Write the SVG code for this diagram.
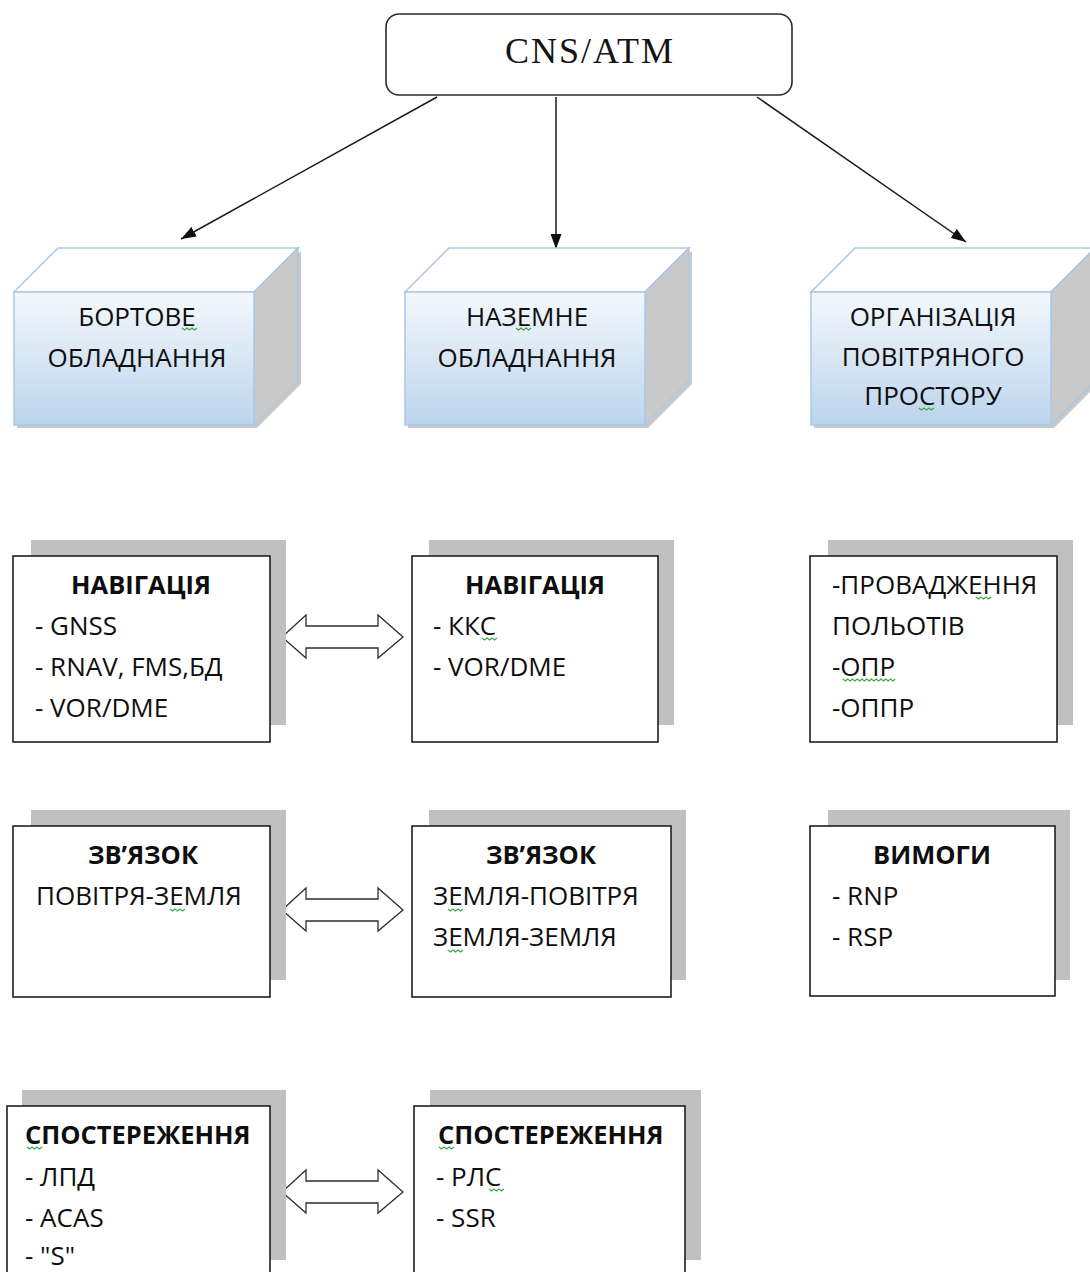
<svg xmlns="http://www.w3.org/2000/svg" xmlns:xlink="http://www.w3.org/1999/xlink" width="1090" height="1272" viewBox="0 0 1090 1272">
  <style>
    .txt { font-family: "Open Sans", "Noto Sans", "DejaVu Sans", sans-serif; font-size: 26px; fill: #0e0e0e; }
    .ttl { font-weight: bold; font-size: 25.5px; text-anchor: middle; }
    .bold { font-weight: bold; font-size: 25.5px; }
    .mid { text-anchor: middle; }
    .card { fill: #ffffff; stroke: #1e1e1e; stroke-width: 1.6; }
    .shade { fill: #c0c0c0; }
    .conn { stroke: #1a1a1a; stroke-width: 1.5; fill: none; }
    .dbl { fill: #ffffff; stroke: #2e2e2e; stroke-width: 1.3; stroke-linejoin: miter; }
    .sq { fill: none; stroke: #3aa845; stroke-width: 1.1; }
  </style>
  <defs>
    <linearGradient id="faceGrad" x1="0" y1="0" x2="0" y2="1">
      <stop offset="0" stop-color="#f4f8fd"/>
      <stop offset="1" stop-color="#bcd4ec"/>
    </linearGradient>
    <marker id="arrowHead" viewBox="0 0 15 11" refX="15" refY="5.5" markerWidth="15" markerHeight="11" markerUnits="userSpaceOnUse" orient="auto">
      <path d="M0,0 L15,5.5 L0,11 Z" fill="#111"/>
    </marker>
    <!-- bevelled box: front 240x133, depth 44 -->
    <g id="cube">
      <path d="M3,3 L243,3 L287,-41 L287,92 L243,136 L3,136 Z" fill="#9a9a9a" opacity="0.55"/>
      <path d="M0,0 L44,-44 L284,-44 L240,0 Z" fill="#ffffff" stroke="#a9c8e6" stroke-width="1.5"/>
      <path d="M240,0 L284,-44 L284,89 L240,133 Z" fill="#c9c9c9" stroke="#a9c8e6" stroke-width="1.5"/>
      <rect x="0" y="0" width="240" height="133" fill="url(#faceGrad)" stroke="#a9c8e6" stroke-width="1.5"/>
    </g>
    <path id="twoWay" d="M0,0 L24,-22 L24,-11 L96,-11 L96,-22 L121,0 L96,21 L96,11 L24,11 L24,21 Z"/>
    <path id="squig" d="M0,0 l2.5,2 l2.5,-2 l2.5,2 l2.5,-2 l2.5,2 l2.5,-2"/>
    <path id="squigLong" d="M0,0 l2.5,2 l2.5,-2 l2.5,2 l2.5,-2 l2.5,2 l2.5,-2 l2.5,2 l2.5,-2 l2.5,2 l2.5,-2 l2.5,2 l2.5,-2 l2.5,2 l2.5,-2 l2.5,2 l2.5,-2 l2.5,2 l2.5,-2 l2.5,2 l2.5,-2 l2.5,2 l2.5,-2"/>
  </defs>

  <rect width="1090" height="1272" fill="#ffffff"/>

  <!-- links from the root down to the three domains -->
  <g id="connectors">
    <line class="conn" x1="437" y1="97" x2="181" y2="239" marker-end="url(#arrowHead)"/>
    <line class="conn" x1="556" y1="97" x2="556" y2="249" marker-end="url(#arrowHead)"/>
    <line class="conn" x1="757" y1="97" x2="966" y2="242" marker-end="url(#arrowHead)"/>
    <use href="#twoWay" class="dbl" transform="translate(282,637)"/>
    <use href="#twoWay" class="dbl" transform="translate(282,910)"/>
    <use href="#twoWay" class="dbl" transform="translate(282,1192)"/>
  </g>

  <g id="root">
    <rect x="386" y="14" width="406" height="81" rx="13" fill="#ffffff" stroke="#2a2a2a" stroke-width="1.6"/>
    <text x="590" y="63" text-anchor="middle" font-family="'Liberation Serif', 'Times New Roman', serif" font-size="36" letter-spacing="2" fill="#141414">CNS/ATM</text>
  </g>

  <g id="onboard">
    <use href="#cube" transform="translate(14,292)"/>
    <text class="txt mid" x="137" y="326">БОРТОВЕ</text>
    <text class="txt mid" x="137" y="367">ОБЛАДНАННЯ</text>
    <use href="#squig" class="sq" transform="translate(182,328)"/>
  </g>

  <g id="ground">
    <use href="#cube" transform="translate(405,292)"/>
    <text class="txt mid" x="527" y="326">НАЗЕМНЕ</text>
    <text class="txt mid" x="527" y="367">ОБЛАДНАННЯ</text>
    <use href="#squig" class="sq" transform="translate(516,328)"/>
  </g>

  <g id="airspace">
    <use href="#cube" transform="translate(811,292)"/>
    <text class="txt mid" x="933" y="326">ОРГАНІЗАЦІЯ</text>
    <text class="txt mid" x="933" y="366">ПОВІТРЯНОГО</text>
    <text class="txt mid" x="933" y="405">ПРОСТОРУ</text>
    <use href="#squig" class="sq" transform="translate(919,408)"/>
  </g>

  <!-- navigation row -->
  <g id="nav-air">
    <rect class="shade" x="31" y="540" width="255" height="185"/>
    <rect class="card" x="13" y="556" width="257" height="186"/>
    <text class="txt ttl" x="141" y="594">НАВІГАЦІЯ</text>
    <text class="txt" x="35" y="635">- GNSS</text>
    <text class="txt" x="35" y="676">- RNAV, FMS,БД</text>
    <text class="txt" x="35" y="717">- VOR/DME</text>
  </g>

  <g id="nav-ground">
    <rect class="shade" x="429" y="540" width="245" height="185"/>
    <rect class="card" x="412" y="556" width="246" height="186"/>
    <text class="txt ttl" x="535" y="594">НАВІГАЦІЯ</text>
    <text class="txt" x="433" y="635">- ККС</text>
    <text class="txt" x="433" y="676">- VOR/DME</text>
    <use href="#squig" class="sq" transform="translate(482,638)"/>
  </g>

  <g id="nav-atm">
    <rect class="shade" x="828" y="540" width="245" height="185"/>
    <rect class="card" x="810" y="556" width="247" height="186"/>
    <text class="txt" x="832" y="594">-ПРОВАДЖЕННЯ</text>
    <text class="txt" x="832" y="635">ПОЛЬОТІВ</text>
    <text class="txt" x="832" y="676">-ОПР</text>
    <text class="txt" x="832" y="717">-ОППР</text>
    <use href="#squig" class="sq" transform="translate(976,597)"/>
    <use href="#squigLong" class="sq" transform="translate(843,679) scale(0.95,1)"/>
  </g>

  <!-- communication row -->
  <g id="com-air">
    <rect class="shade" x="31" y="810" width="255" height="170"/>
    <rect class="card" x="13" y="826" width="257" height="171"/>
    <text class="txt ttl" x="143" y="864">ЗВ’ЯЗОК</text>
    <text class="txt" x="36" y="905">ПОВІТРЯ-ЗЕМЛЯ</text>
    <use href="#squig" class="sq" transform="translate(170,909)"/>
  </g>

  <g id="com-ground">
    <rect class="shade" x="429" y="810" width="257" height="170"/>
    <rect class="card" x="412" y="826" width="259" height="171"/>
    <text class="txt ttl" x="541" y="864">ЗВ’ЯЗОК</text>
    <text class="txt" x="433" y="905">ЗЕМЛЯ-ПОВІТРЯ</text>
    <text class="txt" x="433" y="946">ЗЕМЛЯ-ЗЕМЛЯ</text>
    <use href="#squig" class="sq" transform="translate(448,909)"/>
    <use href="#squig" class="sq" transform="translate(448,950)"/>
  </g>

  <g id="requirements">
    <rect class="shade" x="828" y="810" width="242" height="170"/>
    <rect class="card" x="810" y="826" width="245" height="170"/>
    <text class="txt ttl" x="932" y="864">ВИМОГИ</text>
    <text class="txt" x="832" y="905">- RNP</text>
    <text class="txt" x="832" y="946">- RSP</text>
  </g>

  <!-- surveillance row -->
  <g id="sur-air">
    <rect class="shade" x="22" y="1090" width="264" height="170"/>
    <rect class="card" x="7" y="1106" width="263" height="180"/>
    <text class="txt bold" x="25" y="1144">СПОСТЕРЕЖЕННЯ</text>
    <text class="txt" x="25" y="1186">- ЛПД</text>
    <text class="txt" x="25" y="1227">- ACAS</text>
    <text class="txt" x="25" y="1265">- "S"</text>
    <use href="#squig" class="sq" transform="translate(27,1147)"/>
  </g>

  <g id="sur-ground">
    <rect class="shade" x="430" y="1090" width="271" height="170"/>
    <rect class="card" x="414" y="1106" width="271" height="180"/>
    <text class="txt bold" x="438" y="1144">СПОСТЕРЕЖЕННЯ</text>
    <text class="txt" x="436" y="1186">- РЛС</text>
    <text class="txt" x="436" y="1227">- SSR</text>
    <use href="#squig" class="sq" transform="translate(439,1147)"/>
    <use href="#squig" class="sq" transform="translate(489,1189)"/>
  </g>
</svg>
